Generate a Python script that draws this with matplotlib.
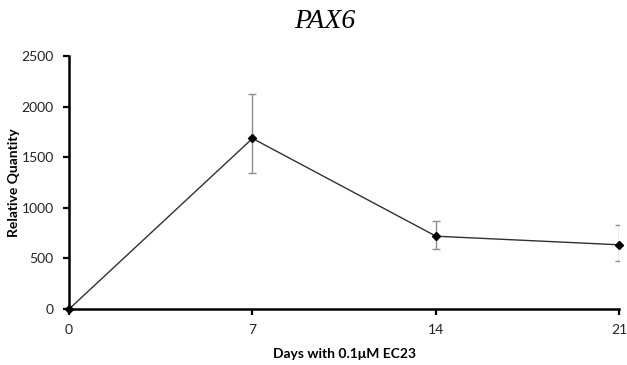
import matplotlib
matplotlib.use("Agg")
import matplotlib.pyplot as plt

days = [0, 7, 14, 21]
quantity = [0, 1685, 720, 635]
err_low = [0, 345, 125, 160]
err_high = [0, 440, 150, 200]
x_ticks = [0, 7, 14, 21]
y_ticks = [0, 500, 1000, 1500, 2000, 2500]

fig = plt.figure(figsize=(6.27, 3.65), dpi=100)
ax = fig.add_axes([0.110, 0.153, 0.878, 0.694])

ax.errorbar(days, quantity, yerr=[err_low, err_high], fmt="none",
            ecolor="#8c8c8c", elinewidth=1.0, capsize=3, capthick=1.0, zorder=2)
ax.plot(days, quantity, color="#303030", linewidth=1.0, marker="D",
        markersize=4.5, markerfacecolor="black", markeredgecolor="black",
        zorder=3, clip_on=False)

ax.set_xlim(0, 21)
ax.set_ylim(0, 2500)
ax.set_xticks(x_ticks)
ax.set_yticks(y_ticks)

for s in ["top", "right"]:
    ax.spines[s].set_visible(False)
for s in ["left", "bottom"]:
    ax.spines[s].set_linewidth(1.8)
    ax.spines[s].set_color("black")
    ax.spines[s].set_capstyle("projecting")
ax.tick_params(direction="out", length=4, width=1.6, labelsize=10,
               labelcolor="#222222", pad=7)

for lab in ax.get_xticklabels() + ax.get_yticklabels():
    lab.set_family("Lato")

ax.set_xlabel("Days with 0.1\u03bcM EC23", fontsize=10, fontweight="bold",
              family="Lato", labelpad=8)
ax.set_ylabel("Relative Quantity", fontsize=10, fontweight="bold",
              family="Lato")
ax.yaxis.set_label_coords(-0.089, 0.5)
fig.text(0.518, 0.94, "PAX6", ha="center", va="center", fontsize=20,
         style="italic", family="Liberation Serif")

fig.savefig("out.png", dpi=100)
